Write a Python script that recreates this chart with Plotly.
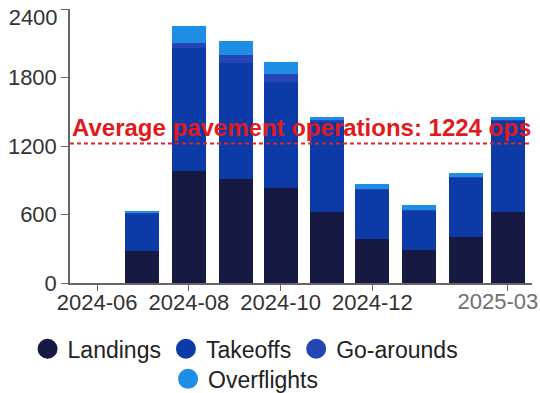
import plotly.graph_objects as go
import pandas as pd

# Monthly operation counts (stacked)
months = ["2024-07-01", "2024-08-01", "2024-09-01", "2024-10-01", "2024-11-01",
          "2024-12-01", "2025-01-01", "2025-02-01", "2025-03-01"]
landings = [280, 985, 910, 830, 625, 385, 290, 400, 625]
takeoffs = [328, 1071, 1020, 929, 792, 432, 343, 521, 797]
go_arounds = [5, 45, 70, 70, 10, 10, 10, 10, 10]
overflights = [20, 150, 120, 110, 30, 40, 40, 30, 20]

avg_pavement_ops = 1224

x_tickvals = ["2024-06-01", "2024-08-01", "2024-10-01", "2024-12-01", "2025-03-01"]
y_tickvals = [0, 600, 1200, 1800, 2400]

series = [
    ("Landings", landings, "#161a42"),
    ("Takeoffs", takeoffs, "#0c3aa7"),
    ("Go-arounds", go_arounds, "#2446b4"),
    ("Overflights", overflights, "#1d8de6"),
]

FONT = "Liberation Sans, Arial, sans-serif"
DAY_MS = 86400000
bar_width = 22.6 * DAY_MS
x_range = ["2024-05-14", "2025-03-17"]
y_range = [0, 2402]

# The last tick label of each axis sits on its own overlay axis so it can be
# nudged inward and stay inside the page.
x_labels = [pd.Timestamp(v).strftime("%Y-%m") for v in x_tickvals]
x_main_text = x_labels[:-1] + [""]
y_labels = [str(v) for v in y_tickvals]
y_main_text = y_labels[:-1] + [""]

fig = go.Figure()
for name, vals, color in series:
    fig.add_trace(go.Bar(
        x=months, y=vals, name=name, width=bar_width,
        marker=dict(color=color, line=dict(width=0)),
        showlegend=False,
    ))

# Empty traces so the overlay axes get drawn
fig.add_trace(go.Scatter(x=[None], y=[None], xaxis="x2", yaxis="y",
                         showlegend=False, hoverinfo="skip"))
fig.add_trace(go.Scatter(x=[None], y=[None], xaxis="x", yaxis="y2",
                         showlegend=False, hoverinfo="skip"))

# Circle legend entries
for name, vals, color in series:
    fig.add_trace(go.Scatter(
        x=[None], y=[None], mode="markers", name=name,
        marker=dict(symbol="circle", size=16, color=color,
                    line=dict(color=color, width=4)),
        legend="legend2" if name == "Overflights" else "legend",
    ))

# Average line and label
fig.add_shape(type="line", xref="paper", x0=0, x1=1, yref="y",
              y0=avg_pavement_ops, y1=avg_pavement_ops,
              line=dict(color="#d9262b", width=2, dash="4px,3px"))
fig.add_annotation(
    xref="paper", x=0, xanchor="left", yref="y", y=avg_pavement_ops,
    yanchor="bottom", yshift=0, showarrow=False,
    text=f"<b>Average pavement operations: {avg_pavement_ops} ops</b>",
    font=dict(family=FONT, size=24, color="#e31a1c"),
)

legend_common = dict(orientation="h", xanchor="center", yanchor="middle",
                     font=dict(size=23, color="#222222"),
                     itemsizing="trace", traceorder="normal",
                     bgcolor="rgba(0,0,0,0)")

tick_font = dict(size=22, color="#333333")

fig.update_layout(
    width=540, height=393,
    margin=dict(l=70, r=8, t=9, b=110, autoexpand=False),
    paper_bgcolor="white", plot_bgcolor="white",
    barmode="stack",
    font=dict(family=FONT, size=22, color="#333333"),
    legend=dict(x=0.38, y=-0.24, **legend_common),
    legend2=dict(x=0.38, y=-0.35, **legend_common),
    xaxis=dict(
        type="date", range=x_range,
        tickvals=x_tickvals, ticktext=x_main_text,
        showgrid=False, zeroline=False,
        showline=True, linecolor="#666666", linewidth=1.5,
        ticks="outside", ticklen=6, tickcolor="#666666",
        ticklabelstandoff=-7, ticklabeloverflow="allow",
        tickfont=tick_font,
    ),
    xaxis2=dict(
        type="date", range=x_range, overlaying="x", anchor="y", side="bottom",
        tickvals=x_tickvals[-1:], ticktext=x_labels[-1:],
        showgrid=False, zeroline=False, showline=False,
        ticks="outside", ticklen=6, tickcolor="rgba(0,0,0,0)",
        ticklabelstandoff=-7, ticklabelshift=-10,
        ticklabeloverflow="allow",
        tickfont=dict(size=22, color="#6f6f6f"),
    ),
    yaxis=dict(
        range=y_range, tickvals=y_tickvals, ticktext=y_main_text,
        showgrid=False, zeroline=False,
        showline=True, linecolor="#666666", linewidth=1.5,
        ticks="outside", ticklen=7, tickcolor="#666666",
        ticklabeloverflow="allow",
        tickfont=tick_font,
    ),
    yaxis2=dict(
        range=y_range, overlaying="y", anchor="x", side="left",
        tickvals=y_tickvals[-1:], ticktext=y_labels[-1:],
        showgrid=False, zeroline=False, showline=False,
        ticks="outside", ticklen=7, tickcolor="rgba(0,0,0,0)",
        ticklabelshift=8, ticklabeloverflow="allow",
        tickfont=tick_font,
    ),
)

fig.write_html("out.html")
